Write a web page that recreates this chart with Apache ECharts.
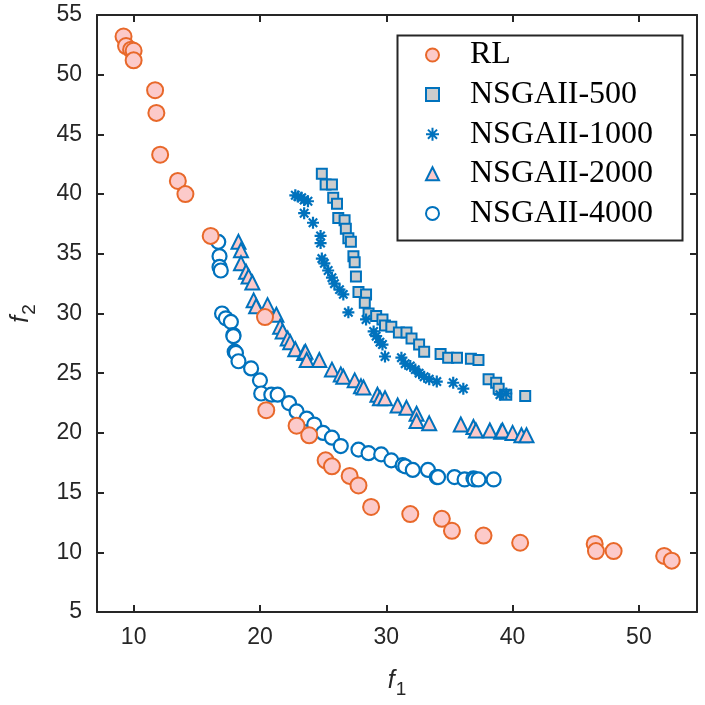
<!DOCTYPE html>
<html>
<head>
    <meta charset="UTF-8">
    <title>f1 - f2</title>
    <script src="https://cdn.jsdelivr.net/npm/echarts@6/dist/echarts.min.js"></script>
    <style>
        html, body { margin: 0; padding: 0; background: #fff; }
        #chart { width: 705px; height: 705px; }
    </style>
</head>
<body>
    <div id="chart"></div>
    <script>
        // 数据 (f1, f2)
        const rlData = [
            [9.2, 53.2], [9.4, 52.4], [9.8, 52.1], [10.0, 52.0], [10.0, 51.2],
            [11.7, 48.7], [11.8, 46.8], [12.1, 43.3], [13.5, 41.1], [14.1, 40.0],
            [16.1, 36.5], [20.4, 29.7], [20.5, 21.9], [22.9, 20.6], [23.9, 19.8],
            [25.2, 17.7], [25.7, 17.2], [27.1, 16.4], [27.8, 15.6], [28.8, 13.8],
            [31.9, 13.2], [34.4, 12.8], [35.2, 11.8], [37.7, 11.4], [40.6, 10.8],
            [46.5, 10.7], [46.6, 10.1], [48.0, 10.1], [52.0, 9.7], [52.6, 9.3]
        ];
        const nsga500 = [
            [24.9, 41.7], [25.2, 40.8], [25.7, 40.8], [25.8, 39.7], [26.1, 39.2],
            [26.2, 38.0], [26.7, 37.8], [26.8, 37.1], [27.0, 36.3], [27.2, 36.0],
            [27.4, 34.8], [27.5, 34.3], [27.6, 33.1], [27.8, 31.8], [28.4, 31.6],
            [28.3, 30.9], [28.6, 30.0], [29.2, 29.8], [29.7, 29.5], [29.9, 29.0],
            [30.4, 28.9], [31.0, 28.4], [31.6, 28.4], [32.0, 27.9], [32.6, 27.4],
            [33.0, 26.8], [34.3, 26.6], [34.9, 26.3], [35.6, 26.3], [36.7, 26.2],
            [37.3, 26.1], [38.1, 24.5], [38.7, 24.2], [38.9, 23.7], [39.5, 23.2],
            [41.0, 23.1]
        ];
        const nsga1000 = [
            [22.8, 39.9], [23.0, 39.8], [23.3, 39.7], [23.5, 39.5], [23.8, 39.4],
            [23.5, 38.4], [24.2, 37.6], [24.8, 36.5], [24.8, 35.9], [24.9, 34.6],
            [25.1, 34.2], [25.4, 33.6], [25.7, 33.0], [25.9, 32.5], [26.3, 32.0],
            [26.6, 31.6], [27.0, 30.1], [28.4, 29.5], [29.0, 28.5], [29.2, 28.1],
            [29.5, 27.6], [29.7, 27.4], [29.9, 26.4], [31.2, 26.3], [31.5, 25.8],
            [31.9, 25.6], [32.3, 25.3], [32.6, 25.0], [33.0, 24.7], [33.4, 24.5],
            [34.0, 24.3], [35.3, 24.2], [36.1, 23.7], [39.0, 23.2], [39.5, 23.3]
        ];
        const nsga2000 = [
            [18.3, 36.0], [18.5, 35.3], [18.5, 34.2], [18.9, 33.5], [19.1, 33.1],
            [19.4, 32.6], [19.5, 31.1], [19.7, 30.6], [20.6, 30.7], [21.3, 29.9],
            [21.6, 28.9], [21.8, 28.5], [22.2, 27.9], [22.4, 27.6], [22.8, 27.0],
            [23.5, 26.7], [23.6, 26.8], [23.7, 26.1], [24.7, 26.1], [25.7, 25.3],
            [26.4, 24.9], [26.6, 24.7], [27.5, 24.4], [28.0, 23.9], [28.2, 23.8],
            [29.3, 23.2], [29.5, 22.9], [29.9, 22.9], [30.9, 22.3], [31.6, 22.1],
            [32.4, 21.6], [32.4, 21.0], [33.4, 20.8], [35.9, 20.7], [36.9, 20.5],
            [37.1, 20.2], [38.2, 20.2], [39.1, 20.1], [39.2, 20.2], [40.0, 20.0],
            [40.7, 19.8], [41.1, 19.8]
        ];
        const nsga4000 = [
            [16.7, 36.0], [16.8, 34.8], [16.8, 33.9], [16.9, 33.6], [17.0, 30.0],
            [17.3, 29.6], [17.7, 29.3], [17.9, 28.2], [17.9, 28.1], [18.0, 26.8],
            [18.1, 26.7], [18.3, 26.0], [19.3, 25.4], [20.0, 24.4], [20.1, 23.3],
            [20.9, 23.2], [21.4, 23.2], [22.3, 22.5], [22.9, 21.8], [23.7, 21.2],
            [24.3, 20.7], [25.0, 20.0], [25.7, 19.6], [26.4, 18.9], [27.8, 18.6],
            [28.6, 18.3], [29.6, 18.2], [30.4, 17.7], [31.3, 17.3], [31.5, 17.2],
            [32.1, 16.9], [33.3, 16.9], [34.0, 16.3], [34.1, 16.3], [35.4, 16.3],
            [36.2, 16.1], [36.9, 16.2], [37.0, 16.1], [37.3, 16.1], [38.5, 16.1]
        ];
        const xTicks = [10, 20, 30, 40, 50];

        const blue = '#0072BD';
        const orange = '#E8682A';
        const pink = '#FCCACA';
        const axisColor = '#262626';
        const asterisk = 'path://M5,0L5,10M0,5L10,5M1.5,1.5L8.5,8.5M8.5,1.5L1.5,8.5';

        const chart = echarts.init(document.getElementById('chart'));

        const xBase = {
            type: 'value', min: 7.1, max: 54.6,
            axisLine: { show: true, onZero: false, lineStyle: { color: axisColor, width: 2 } },
            axisTick: { show: true, inside: true, length: 7, customValues: xTicks, lineStyle: { color: axisColor, width: 2 } },
            splitLine: { show: false }
        };
        const yBase = {
            type: 'value', min: 5, max: 55, interval: 5,
            axisLine: { show: true, onZero: false, lineStyle: { color: axisColor, width: 2 } },
            axisTick: { show: true, inside: true, length: 7, lineStyle: { color: axisColor, width: 2 } },
            splitLine: { show: false }
        };
        const labelFont = { color: '#262626', fontFamily: 'Liberation Sans', fontSize: 23 };
        const nameRich = {
            i: { fontFamily: 'Liberation Sans', fontStyle: 'italic', fontSize: 25, color: '#262626' },
            s: { fontFamily: 'Liberation Sans', fontSize: 19, color: '#262626', padding: [16, 0, 0, 1] }
        };

        chart.setOption({
            animation: false,
            grid: { left: 97, right: 8, top: 15, bottom: 93 },
            xAxis: [
                Object.assign({}, xBase, {
                    position: 'bottom',
                    axisLabel: Object.assign({ customValues: xTicks, margin: 14 }, labelFont),
                    name: '{i|f}{s|1}', nameLocation: 'middle', nameGap: 52,
                    nameTextStyle: { rich: nameRich }
                }),
                Object.assign({}, xBase, { position: 'top', axisLabel: { show: false } })
            ],
            yAxis: [
                Object.assign({}, yBase, {
                    position: 'left',
                    axisLabel: Object.assign({ margin: 15 }, labelFont),
                    name: '{i|f}{s|2}', nameLocation: 'middle', nameGap: 58, nameRotate: 90,
                    nameTextStyle: { rich: nameRich }
                }),
                Object.assign({}, yBase, { position: 'right', axisLabel: { show: false } })
            ],
            legend: {
                orient: 'vertical',
                left: 425, top: 39,
                padding: 0,
                itemWidth: 13, itemHeight: 13,
                itemGap: 7.6,
                textStyle: { fontFamily: 'Liberation Serif', fontSize: 32, lineHeight: 32, color: '#000', padding: [0, 0, 0, 26] },
                data: ['RL', 'NSGAII-500', 'NSGAII-1000', 'NSGAII-2000', 'NSGAII-4000']
            },
            graphic: [{
                type: 'rect', left: 395, top: 33,
                shape: { width: 285, height: 205 },
                style: { fill: 'none', stroke: axisColor, lineWidth: 2 },
                z: 1
            }],
            series: [
                {
                    name: 'RL', type: 'scatter', data: rlData, z: 5,
                    symbol: 'circle', symbolSize: 16,
                    itemStyle: { color: pink, borderColor: orange, borderWidth: 2, opacity: 1 }
                },
                {
                    name: 'NSGAII-500', type: 'scatter', data: nsga500, z: 3,
                    symbol: 'rect', symbolSize: 10,
                    itemStyle: { color: '#CCCCCC', borderColor: blue, borderWidth: 2, opacity: 1 }
                },
                {
                    name: 'NSGAII-1000', type: 'scatter', data: nsga1000, z: 3,
                    symbol: asterisk, symbolSize: 12,
                    itemStyle: { color: blue, borderColor: blue, borderWidth: 2.2, opacity: 1 }
                },
                {
                    name: 'NSGAII-2000', type: 'scatter', data: nsga2000, z: 3,
                    symbol: 'triangle', symbolSize: 14,
                    itemStyle: { color: pink, borderColor: blue, borderWidth: 2, opacity: 1 }
                },
                {
                    name: 'NSGAII-4000', type: 'scatter', data: nsga4000, z: 3,
                    symbol: 'circle', symbolSize: 14,
                    itemStyle: { color: '#fff', borderColor: blue, borderWidth: 2.2, opacity: 1 }
                }
            ]
        });
    </script>
</body>
</html>
